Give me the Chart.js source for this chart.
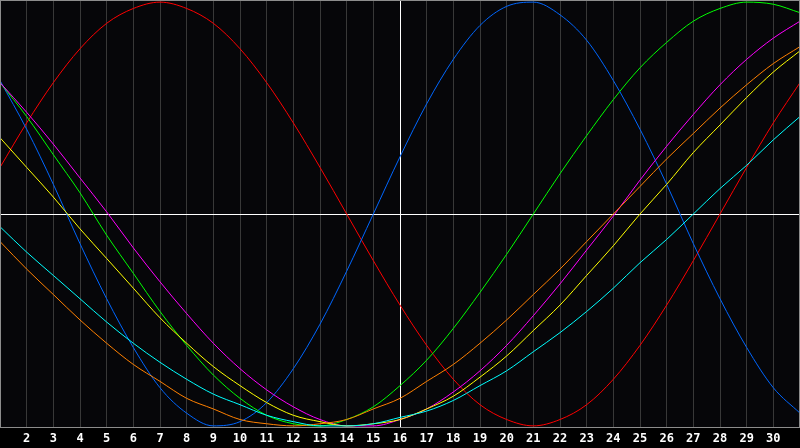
<!DOCTYPE html>
<html>
<head>
    <title>Biorhythm Chart</title>
    <script src="https://cdn.jsdelivr.net/npm/chart.js"></script>
    <style>
        html, body { margin: 0; padding: 0; background: #000; }
        #wrap { width: 800px; height: 448px; }
    </style>
</head>
<body>
    <div id="wrap">
        <canvas id="bioChart"></canvas>
    </div>

    <script>
        // days of the month shown on the x axis
        const days = [1, 2, 3, 4, 5, 6, 7, 8, 9, 10, 11, 12, 13, 14, 15, 16,
                      17, 18, 19, 20, 21, 22, 23, 24, 25, 26, 27, 28, 29, 30, 31];
        const today = 16;

        // curve values (-1 .. 1), one per day
        const red = [0.22, 0.43, 0.62, 0.78, 0.90, 0.97, 1.00, 0.97, 0.90, 0.78, 0.62,
                     0.43, 0.22, 0.00, -0.22, -0.43, -0.62, -0.78, -0.90, -0.97, -1.00,
                     -0.97, -0.90, -0.78, -0.62, -0.43, -0.22, 0.00, 0.22, 0.43, 0.62];
        const blue = [0.63, 0.40, 0.14, -0.14, -0.40, -0.63, -0.82, -0.94, -1.00, -0.98, -0.89,
                      -0.73, -0.52, -0.27, 0.00, 0.27, 0.52, 0.73, 0.89, 0.98, 1.00,
                      0.94, 0.82, 0.63, 0.40, 0.14, -0.14, -0.40, -0.63, -0.82, -0.94];
        const green = [0.62, 0.46, 0.28, 0.10, -0.10, -0.28, -0.46, -0.62, -0.76, -0.87, -0.95,
                       -0.99, -1.00, -0.97, -0.91, -0.81, -0.69, -0.54, -0.37, -0.19, 0.00,
                       0.19, 0.37, 0.54, 0.69, 0.81, 0.91, 0.97, 1.00, 0.99, 0.95];
        const magenta = [0.62, 0.48, 0.33, 0.17, 0.01, -0.16, -0.32, -0.47, -0.61, -0.73, -0.83,
                         -0.91, -0.97, -1.00, -1.00, -0.97, -0.92, -0.84, -0.74, -0.62, -0.48,
                         -0.33, -0.17, -0.01, 0.16, 0.32, 0.47, 0.61, 0.73, 0.83, 0.91];
        const yellow = [0.36, 0.22, 0.08, -0.07, -0.21, -0.35, -0.49, -0.61, -0.72, -0.81, -0.89,
                        -0.95, -0.98, -1.00, -0.99, -0.97, -0.92, -0.86, -0.77, -0.67, -0.55,
                        -0.43, -0.29, -0.15, 0.00, 0.14, 0.29, 0.42, 0.55, 0.67, 0.77];
        const orange = [-0.13, -0.26, -0.38, -0.50, -0.61, -0.71, -0.79, -0.87, -0.92, -0.97, -0.99,
                        -1.00, -0.99, -0.97, -0.92, -0.87, -0.79, -0.71, -0.61, -0.50, -0.38,
                        -0.26, -0.13, 0.00, 0.13, 0.26, 0.38, 0.50, 0.61, 0.71, 0.79];
        const cyan = [-0.06, -0.18, -0.29, -0.40, -0.51, -0.61, -0.70, -0.78, -0.85, -0.90, -0.95,
                      -0.98, -1.00, -1.00, -0.99, -0.96, -0.93, -0.88, -0.81, -0.74, -0.65,
                      -0.56, -0.46, -0.35, -0.23, -0.12, 0.00, 0.12, 0.23, 0.35, 0.46];

        const series = [
            { values: cyan, color: '#00ffff' },
            { values: orange, color: '#ff8000' },
            { values: yellow, color: '#ffff00' },
            { values: magenta, color: '#ff00ff' },
            { values: green, color: '#00ff00' },
            { values: blue, color: '#0066ff' },
            { values: red, color: '#ff0000' }
        ];

        // paints the backgrounds and the grey frame round the plot
        const framePlugin = {
            id: 'frame',
            beforeDraw(chart) {
                const c = chart.ctx;
                const a = chart.chartArea;
                c.save();
                c.fillStyle = '#000000';
                c.fillRect(0, 0, chart.width, chart.height);
                c.fillStyle = '#060609';
                c.fillRect(a.left, a.top, a.right - a.left, a.bottom - a.top);
                c.restore();
            },
            afterDraw(chart) {
                const c = chart.ctx;
                const a = chart.chartArea;
                c.save();
                c.strokeStyle = '#8c8c8c';
                c.lineWidth = 1;
                c.strokeRect(a.left + 0.5, a.top + 0.5, a.right - a.left - 1, a.bottom - a.top - 1);
                c.restore();
            }
        };

        const ctx = document.getElementById('bioChart').getContext('2d');
        new Chart(ctx, {
            type: 'line',
            data: {
                datasets: series.map(s => ({
                    data: days.map((d, i) => ({ x: d, y: s.values[i] })),
                    borderColor: s.color,
                    borderWidth: 1,
                    pointRadius: 0,
                    fill: false,
                    cubicInterpolationMode: 'monotone'
                }))
            },
            options: {
                responsive: true,
                maintainAspectRatio: false,
                devicePixelRatio: 1,
                animation: false,
                layout: { padding: 0 },
                plugins: {
                    legend: { display: false },
                    tooltip: { enabled: false }
                },
                scales: {
                    x: {
                        type: 'linear',
                        min: 1,
                        max: 31,
                        border: { display: false },
                        grid: {
                            drawTicks: false,
                            color: c => c.tick && c.tick.value === today ? '#ffffff' : '#383838'
                        },
                        ticks: {
                            stepSize: 1,
                            autoSkip: false,
                            maxRotation: 0,
                            padding: 4,
                            color: '#ffffff',
                            font: { family: 'DejaVu Sans Mono', size: 12, weight: 'bold', lineHeight: 1.2 },
                            callback: v => (v === 1 || v === 31) ? '' : v
                        },
                        // plot runs edge to edge, 20px strip for the day labels
                        afterFit: scale => {
                            scale.paddingLeft = 0;
                            scale.paddingRight = 0;
                            scale.height = 20;
                        }
                    },
                    y: {
                        min: -1.01,
                        max: 1.01,
                        border: { display: false },
                        grid: {
                            drawTicks: false,
                            color: c => c.tick && c.tick.value === 0 ? '#ffffff' : 'rgba(0,0,0,0)'
                        },
                        ticks: { display: false, stepSize: 1.01 },
                        afterFit: scale => {
                            scale.width = 0;
                            scale.paddingTop = 0;
                            scale.paddingBottom = 0;
                        }
                    }
                }
            },
            plugins: [framePlugin]
        });
    </script>
</body>
</html>
